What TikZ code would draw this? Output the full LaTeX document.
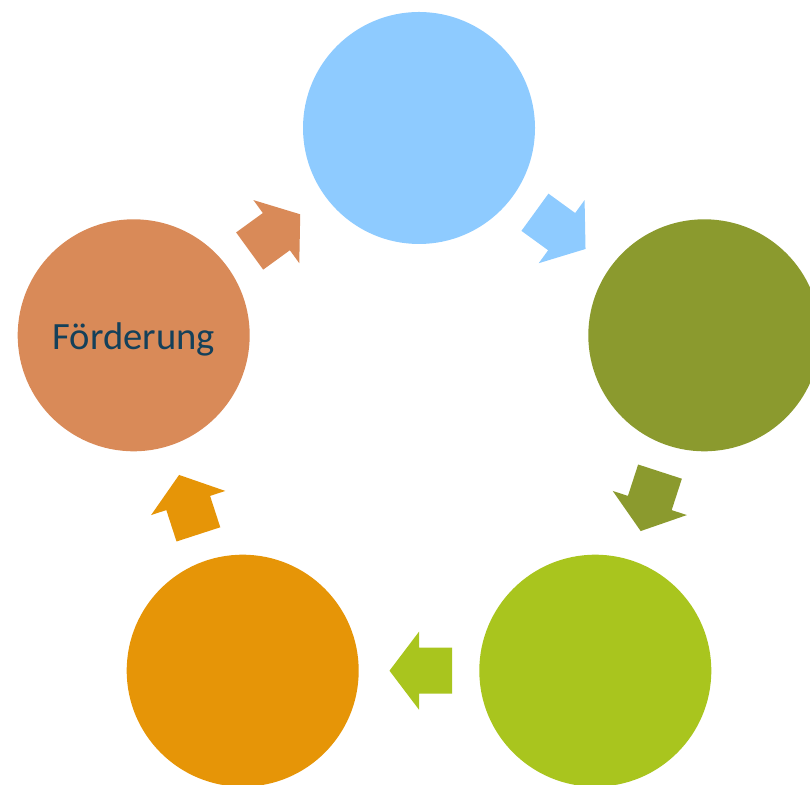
\documentclass[tikz,border=0pt]{standalone}
\usepackage{fontspec}
\setmainfont{Carlito}
\usetikzlibrary{calc}
\definecolor{cblue}{RGB}{142,203,255}
\definecolor{colive}{RGB}{139,154,46}
\definecolor{clime}{RGB}{169,197,30}
\definecolor{corange}{RGB}{230,149,7}
\definecolor{csalmon}{RGB}{217,138,88}
\definecolor{ctext}{RGB}{20,64,90}
\tikzset{
  stage/.style={circle, minimum size=232pt, inner sep=0pt, draw=none},
  blockarrow/.pic={
    \fill[pic actions] (-33,23) -- (0,23) -- (0,39) -- (29.5,0)
      -- (0,-39) -- (0,-23) -- (-33,-23) -- cycle;
  }
}
\begin{document}
\begin{tikzpicture}[x=1pt,y=1pt]
  \useasboundingbox (0,0) rectangle (810,784);
  \clip (0,0) rectangle (810,784);
  % five stages on a regular pentagon
  \node[stage, fill=cblue]   (top)   at (419,656)   {};
  \node[stage, fill=colive]  (right) at (704.3,448.7) {};
  \node[stage, fill=clime]   (br)    at (595.3,113.3) {};
  \node[stage, fill=corange] (bl)    at (242.7,113.3) {};
  \node[stage, fill=csalmon, text=ctext, font=\fontsize{38.6}{44}\selectfont]
       (left)  at (133.7,448.7) {\raisebox{-4pt}[\height][\depth]{Förderung}};
  % block arrows between neighbouring stages
  \pic[fill=cblue,   rotate=-36]  at ($(top)!0.5!(right)$) {blockarrow};
  \pic[fill=colive,  rotate=-108] at ($(right)!0.5!(br)$) {blockarrow};
  \pic[fill=clime,   rotate=180]  at ($(br)!0.5!(bl)$)    {blockarrow};
  \pic[fill=corange, rotate=108]  at ($(bl)!0.5!(left)$)  {blockarrow};
  \pic[fill=csalmon, rotate=36]   at ($(left)!0.5!(top)$) {blockarrow};
\end{tikzpicture}
\end{document}
